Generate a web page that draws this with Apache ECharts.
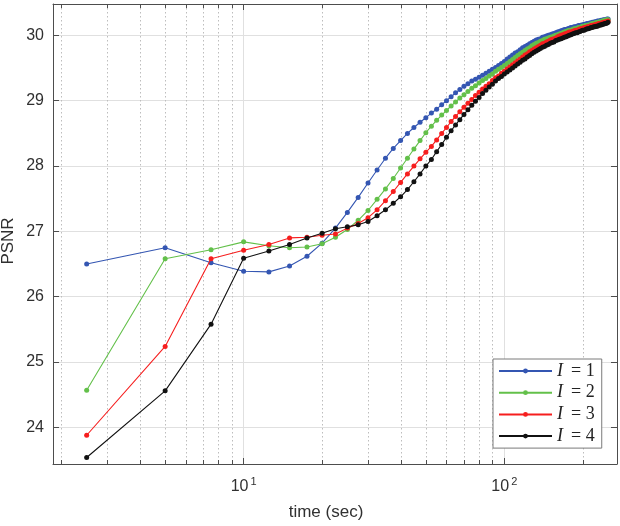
<!DOCTYPE html>
<html><head><meta charset="utf-8">
<script src="https://cdn.jsdelivr.net/npm/echarts@6/dist/echarts.min.js"></script>
<style>html,body{margin:0;padding:0;background:#fff}#c{width:620px;height:526px}</style>
</head><body><div id="c"></div>
<script>
const times = [2.5,5,7.5,10,12.5,15,17.5,20,22.5,25,27.5,30,32.5,35,37.5,40,42.5,45,47.5,50,
52.5,55,57.5,60,62.5,65,67.5,70,72.5,75,77.5,80,82.5,85,87.5,90,92.5,95,97.5,100,
102.5,105,107.5,110,112.5,115,117.5,120,122.5,125,127.5,130,132.5,135,137.5,140,142.5,145,147.5,150,
152.5,155,157.5,160,162.5,165,167.5,170,172.5,175,177.5,180,182.5,185,187.5,190,192.5,195,197.5,200,
202.5,205,207.5,210,212.5,215,217.5,220,222.5,225,227.5,230,232.5,235,237.5,240,242.5,245,247.5,250];

const psnrI1 = [26.50,26.75,26.52,26.39,26.38,26.47,26.62,26.82,27.05,27.29,
27.52,27.74,27.94,28.12,28.27,28.39,28.50,28.59,28.67,28.74,
28.81,28.87,28.94,29.00,29.06,29.12,29.17,29.22,29.26,29.30,
29.33,29.36,29.39,29.42,29.45,29.48,29.51,29.54,29.57,29.60,
29.64,29.67,29.70,29.73,29.75,29.78,29.81,29.83,29.85,29.87,
29.89,29.91,29.93,29.94,29.95,29.97,29.98,29.99,30.00,30.01,
30.02,30.03,30.04,30.05,30.06,30.07,30.08,30.09,30.09,30.10,
30.11,30.12,30.12,30.13,30.13,30.14,30.15,30.15,30.16,30.16,
30.17,30.17,30.18,30.18,30.19,30.19,30.20,30.20,30.21,30.21,
30.22,30.22,30.22,30.23,30.23,30.24,30.24,30.24,30.25,30.25];

const psnrI2 = [24.57,26.58,26.72,26.84,26.78,26.75,26.76,26.81,26.91,27.03,
27.17,27.32,27.49,27.65,27.81,27.97,28.12,28.26,28.39,28.51,
28.61,28.70,28.78,28.85,28.92,28.98,29.04,29.09,29.14,29.19,
29.23,29.27,29.31,29.34,29.38,29.41,29.45,29.48,29.51,29.54,
29.57,29.60,29.63,29.66,29.69,29.72,29.74,29.77,29.79,29.81,
29.84,29.86,29.88,29.89,29.91,29.92,29.94,29.95,29.96,29.97,
29.98,29.99,30.00,30.01,30.02,30.03,30.04,30.05,30.06,30.07,
30.08,30.08,30.09,30.10,30.10,30.11,30.12,30.12,30.13,30.14,
30.14,30.15,30.15,30.16,30.16,30.17,30.18,30.18,30.19,30.19,
30.20,30.20,30.21,30.21,30.22,30.22,30.23,30.23,30.24,30.24];

const psnrI3 = [23.88,25.24,26.58,26.71,26.80,26.90,26.91,26.94,26.96,27.05,
27.12,27.21,27.33,27.47,27.61,27.75,27.88,28.00,28.11,28.21,
28.30,28.40,28.50,28.59,28.68,28.76,28.83,28.90,28.96,29.02,
29.08,29.13,29.18,29.22,29.26,29.31,29.35,29.38,29.42,29.45,
29.49,29.52,29.55,29.58,29.61,29.64,29.67,29.70,29.72,29.75,
29.77,29.79,29.81,29.83,29.85,29.87,29.88,29.90,29.91,29.93,
29.94,29.95,29.96,29.98,29.99,30.00,30.01,30.02,30.03,30.04,
30.05,30.05,30.06,30.07,30.08,30.08,30.09,30.10,30.10,30.11,
30.12,30.12,30.13,30.13,30.14,30.15,30.15,30.16,30.16,30.17,
30.17,30.18,30.18,30.19,30.19,30.20,30.20,30.21,30.21,30.22];

const psnrI4 = [23.54,24.56,25.58,26.59,26.70,26.80,26.90,26.97,27.04,27.07,
27.10,27.15,27.24,27.33,27.43,27.53,27.64,27.76,27.88,28.00,
28.10,28.22,28.33,28.44,28.54,28.63,28.71,28.79,28.86,28.93,
28.99,29.05,29.11,29.16,29.21,29.25,29.30,29.34,29.37,29.41,
29.44,29.47,29.50,29.53,29.56,29.59,29.62,29.64,29.67,29.69,
29.72,29.74,29.76,29.78,29.80,29.82,29.83,29.85,29.86,29.88,
29.89,29.90,29.92,29.93,29.94,29.95,29.96,29.97,29.98,29.99,
30.00,30.01,30.02,30.03,30.04,30.04,30.05,30.06,30.07,30.08,
30.08,30.09,30.10,30.10,30.11,30.12,30.12,30.13,30.13,30.14,
30.14,30.15,30.16,30.16,30.17,30.17,30.18,30.18,30.19,30.20];

const seriesNames = ['I = 1','I = 2','I = 3','I = 4'];
const minorGridX = [2,3,4,5,6,7,8,9,20,30,40,50,60,70,80,90,200];
const xLabel = 'time (sec)';
const yLabel = 'PSNR';

const xMin = 1.857, xMax = 270.5, yMin = 23.44, yMax = 30.48;
const seriesColors = ['#3456b2','#63c04a','#f61e1e','#111111'];
const axisColor = '#4d4d4d';
const textColor = '#303030';
const sansFont = 'Liberation Sans, Arial, Helvetica, sans-serif';
const serifFont = 'Liberation Serif, DejaVu Serif, serif';

const chart = echarts.init(document.getElementById('c'), null, {renderer: 'canvas'});
const allData = [psnrI1, psnrI2, psnrI3, psnrI4];

const lineSeries = allData.map((arr, i) => ({
  type: 'line',
  name: seriesNames[i],
  data: times.map((t, j) => [t, arr[j]]),
  xAxisIndex: 0, yAxisIndex: 0,
  symbol: 'circle', symbolSize: 5,
  showSymbol: true, showAllSymbol: true,
  lineStyle: {color: seriesColors[i], width: 1.1},
  itemStyle: {color: seriesColors[i]},
  emphasis: {disabled: true},
  z: 3 + i,
  animation: false
}));

const gridSeries = {
  type: 'custom',
  name: 'minor-grid',
  xAxisIndex: 0, yAxisIndex: 0,
  silent: true, z: 1, animation: false,
  data: minorGridX.map(v => [v, yMin]),
  renderItem: function (params, api) {
    const p = api.coord([api.value(0), api.value(1)]);
    const cs = params.coordSys;
    const x = Math.round(p[0]) + 0.5;
    const top = cs.y, bot = cs.y + cs.height;
    return {type: 'group', children: [
      {type: 'line', shape: {x1: x, y1: top, x2: x, y2: bot},
       style: {stroke: '#bdbdbd', lineWidth: 1, lineDash: [1.5, 2.5]}},
      {type: 'line', shape: {x1: x, y1: bot, x2: x, y2: bot - 4},
       style: {stroke: axisColor, lineWidth: 1}},
      {type: 'line', shape: {x1: x, y1: top, x2: x, y2: top + 4},
       style: {stroke: axisColor, lineWidth: 1}}
    ]};
  }
};

function xFmt(v) {
  const l = Math.log10(v);
  if (Math.abs(l - Math.round(l)) < 1e-6 && v > 5 && v < 200) {
    return '{b|10}{s|' + Math.round(l) + '}';
  }
  return '';
}
function yFmt(v) {
  return Math.abs(v - Math.round(v)) < 1e-6 ? String(Math.round(v)) : '';
}

const option = {
  animation: false,
  backgroundColor: '#ffffff',
  grid: {left: 53, right: 3, top: 4, bottom: 62, containLabel: false, outerBoundsMode: 'none'},
  legend: {
    data: seriesNames,
    orient: 'vertical',
    left: 493, top: 359,
    backgroundColor: '#ffffff',
    borderColor: '#7a7a7a', borderWidth: 1, borderRadius: 0,
    padding: [3, 7, 3, 5],
    itemWidth: 53, itemHeight: 6, itemGap: 3.7,
    selectedMode: false,
    textStyle: {
      color: '#222', fontSize: 18, fontFamily: serifFont,
      rich: {
        i: {fontStyle: 'italic', fontSize: 18, fontFamily: serifFont, color: '#222', lineHeight: 17},
        r: {fontSize: 18, fontFamily: serifFont, color: '#222', lineHeight: 17}
      }
    },
    formatter: function (name) { return '{i|I}{r|\u2009' + name.slice(1) + '}'; }
  },
  xAxis: [
    {
      type: 'log', logBase: 10, min: xMin, max: xMax, position: 'bottom',
      name: xLabel, nameLocation: 'middle', nameGap: 40,
      nameTextStyle: {fontSize: 17, color: textColor, fontFamily: sansFont, padding: [0, 18, 0, 0]},
      axisLine: {show: true, onZero: false, lineStyle: {color: axisColor, width: 1}},
      axisTick: {show: true, inside: true, length: 6, lineStyle: {color: axisColor}},
      axisLabel: {
        formatter: xFmt, margin: 12, color: textColor,
        rich: {
          b: {fontSize: 16, color: textColor, fontFamily: sansFont},
          s: {fontSize: 11, color: textColor, fontFamily: sansFont, padding: [0, 0, 10, 2]}
        }
      },
      splitLine: {show: true, lineStyle: {color: '#e0e0e0', width: 1}}
    },
    {
      type: 'log', logBase: 10, min: xMin, max: xMax, position: 'top',
      axisLine: {show: true, onZero: false, lineStyle: {color: axisColor, width: 1}},
      axisTick: {show: true, inside: true, length: 6, lineStyle: {color: axisColor}},
      axisLabel: {show: false},
      splitLine: {show: false}
    }
  ],
  yAxis: [
    {
      type: 'value', min: yMin, max: yMax, splitNumber: 7, position: 'left',
      name: yLabel, nameLocation: 'middle', nameGap: 36, nameMoveOverlap: false,
      nameTextStyle: {fontSize: 17, color: textColor, fontFamily: sansFont, padding: [0, 14, 0, 0]},
      axisLine: {show: true, lineStyle: {color: axisColor, width: 1}},
      axisTick: {show: true, inside: true, length: 6, lineStyle: {color: axisColor}},
      axisLabel: {formatter: yFmt, margin: 9, fontSize: 16, color: textColor, fontFamily: sansFont},
      splitLine: {show: true, lineStyle: {color: '#e0e0e0', width: 1}}
    },
    {
      type: 'value', min: yMin, max: yMax, splitNumber: 7, position: 'right',
      axisLine: {show: true, lineStyle: {color: axisColor, width: 1}},
      axisTick: {show: true, inside: true, length: 6, lineStyle: {color: axisColor}},
      axisLabel: {show: false},
      splitLine: {show: false}
    }
  ],
  series: [gridSeries].concat(lineSeries)
};
chart.setOption(option);
</script>
</body></html>
